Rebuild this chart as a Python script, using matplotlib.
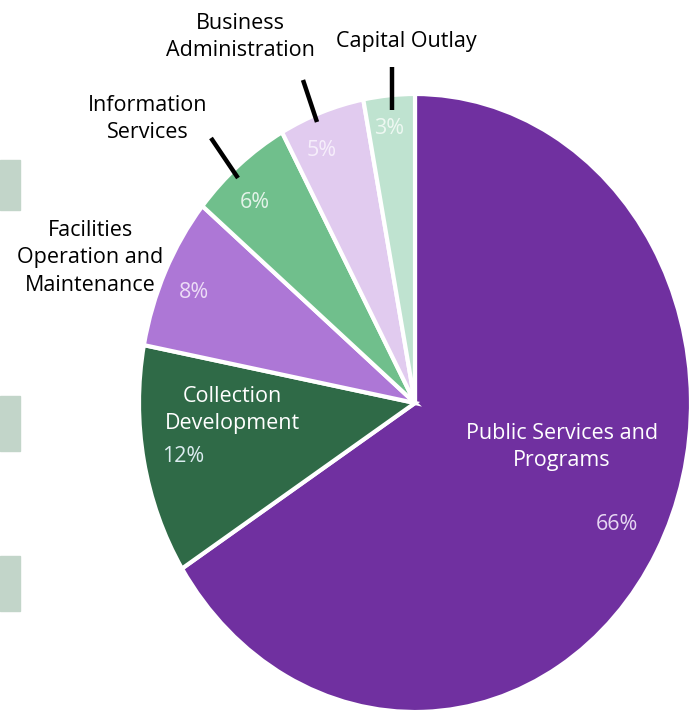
import matplotlib.pyplot as plt
from matplotlib.patches import Rectangle

plt.rcParams['font.family'] = ['Open Sans', 'DejaVu Sans']

categories = ['Public Services and\nPrograms', 'Collection\nDevelopment',
              'Facilities\nOperation and\nMaintenance', 'Information\nServices',
              'Business\nAdministration', 'Capital Outlay']
shares = [66, 12, 8, 6, 5, 3]
colors = ['#7030a0', '#2f6a47', '#ad77d6', '#70bf8c', '#e1cbef', '#bfe3d0']

W, H = 697, 712
CX, CY, RX, RY = 415, 403, 276, 309

fig = plt.figure(figsize=(W / 100, H / 100), dpi=100)
ax = fig.add_axes([(CX - RX) / W, (H - CY - RY) / H, 2 * RX / W, 2 * RY / H])
ax.pie(shares, colors=colors, startangle=90, counterclock=False,
       wedgeprops=dict(edgecolor='white', linewidth=3))
ax.set_aspect('auto')
ax.set_xlim(-1, 1)
ax.set_ylim(-1, 1)
ax.axis('off')


def pix(px, py):
    # picture pixels -> pie data coords
    return (px - CX) / RX, (CY - py) / RY


# names of the slices
label_pos = [(562, 447, 'white'), (232, 410, 'white'), (90, 258, 'black'),
             (148, 119, 'black'), (240, 37, 'black'), (406, 41, 'black')]
for name, (px, py, c) in zip(categories, label_pos):
    x, y = pix(px, py)
    ax.text(x, y, name, color=c, fontsize=15.5, ha='center', va='center',
            linespacing=1.4, clip_on=False)

# percentages
pct_pos = [(617, 525), (183, 457), (194, 293), (255, 203), (322, 150), (389, 129)]
pct_cols = ['#e6d6f2', '#dcecf0', '#ecdcf6', '#e3f3e8', '#f6eefb', '#eef8f2']
for v, (px, py), c in zip(shares, pct_pos, pct_cols):
    x, y = pix(px, py)
    ax.text(x, y, '%d%%' % v, color=c, fontsize=15.5, ha='center', va='center',
            clip_on=False)

# leader lines
leaders = [((211, 138), (238, 178)), ((303, 80), (317, 122)), ((392, 67), (392, 110))]
for a, b in leaders:
    (x0, y0), (x1, y1) = pix(*a), pix(*b)
    ax.plot([x0, x1], [y0, y1], color='black', lw=3.2, solid_capstyle='butt',
            clip_on=False)

# grey-green tabs cut at the left edge
for top, bot in [(160, 210), (396, 451), (556, 611)]:
    fig.patches.append(Rectangle((0, 1 - bot / H), 20 / W, (bot - top) / H,
                                 transform=fig.transFigure, color='#c2d5c9'))

plt.savefig('out.png', dpi=100)
